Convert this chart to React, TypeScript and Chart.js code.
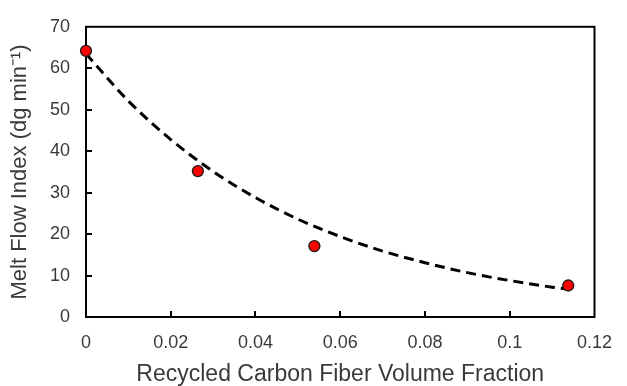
import React, { useEffect, useRef } from 'react';
import { Chart, registerables } from 'chart.js';

Chart.register(...registerables);

// Measured melt flow index vs. recycled carbon fiber volume fraction
const fiberFraction = [0, 0.0264, 0.0539, 0.1138];
const meltFlowIndex = [64.2, 35.2, 17.1, 7.6];

// Exponential trend line, sampled along the fraction axis
const trendFraction = [0, 0.01, 0.02, 0.03, 0.04, 0.05, 0.06, 0.07, 0.08, 0.09, 0.1, 0.11, 0.1138];
const trendMeltFlow = [63.5, 52.1, 42.8, 35.1, 28.8, 23.6, 19.4, 15.9, 13.1, 10.7, 8.8, 7.2, 6.7];

// Axis tick labels
const xTickLabels = ['0', '0.02', '0.04', '0.06', '0.08', '0.1', '0.12'];
const yTickLabels = ['0', '10', '20', '30', '40', '50', '60', '70'];

const TEXT = '#3a3a3a';
const FONT = '"Liberation Sans", Arial, sans-serif';

// Draws the boxed frame and inward-pointing tick marks
const framePlugin = {
  id: 'frame',
  beforeDatasetsDraw(chart: any) {
    const { ctx, chartArea } = chart;
    const { left, right, top, bottom } = chartArea;
    const xs = chart.scales.x;
    const ys = chart.scales.y;
    ctx.save();
    ctx.strokeStyle = '#000';
    ctx.lineWidth = 2;
    ctx.strokeRect(left, top, right - left, bottom - top);
    ctx.beginPath();
    xs.ticks.forEach((t: any) => {
      const px = Math.round(xs.getPixelForValue(t.value));
      if (px <= left + 1 || px >= right - 1) return;
      ctx.moveTo(px, bottom);
      ctx.lineTo(px, bottom - 6);
    });
    ys.ticks.forEach((t: any) => {
      const py = Math.round(ys.getPixelForValue(t.value));
      if (py >= bottom - 1 || py <= top + 1) return;
      ctx.moveTo(left, py);
      ctx.lineTo(left + 6, py);
    });
    ctx.stroke();
    ctx.restore();
  },
};

export default function App() {
  const canvasRef = useRef<HTMLCanvasElement | null>(null);

  useEffect(() => {
    if (!canvasRef.current) return;
    const chart = new Chart(canvasRef.current, {
      type: 'scatter',
      data: {
        datasets: [
          {
            label: 'Melt flow index',
            data: fiberFraction.map((x, i) => ({ x, y: meltFlowIndex[i] })),
            backgroundColor: '#FF0000',
            borderColor: '#1a1a1a',
            borderWidth: 1.3,
            pointRadius: 5.5,
            pointHoverRadius: 5.5,
            showLine: false,
            clip: false,
          },
          {
            label: 'Trend',
            type: 'line',
            data: trendFraction.map((x, i) => ({ x, y: trendMeltFlow[i] })),
            borderColor: '#000',
            borderWidth: 3,
            borderDash: [10, 6],
            pointRadius: 0,
            fill: false,
            cubicInterpolationMode: 'monotone',
            clip: false,
          } as any,
        ],
      },
      options: {
        animation: false,
        responsive: false,
        maintainAspectRatio: false,
        layout: { padding: { top: 23, right: 22, left: 0, bottom: 0 } },
        plugins: {
          legend: { display: false },
          tooltip: { enabled: false },
        },
        scales: {
          x: {
            type: 'linear',
            min: 0,
            max: 0.12,
            grid: { display: false, drawTicks: false },
            border: { display: false },
            ticks: {
              stepSize: 0.02,
              color: TEXT,
              font: { family: FONT, size: 18 },
              padding: 15,
              maxRotation: 0,
              callback: (_v: any, i: number) => xTickLabels[i],
            },
            title: {
              display: true,
              text: 'Recycled Carbon Fiber Volume Fraction',
              color: TEXT,
              font: { family: FONT, size: 23, lineHeight: 1 },
              padding: { top: 0, bottom: 0 },
            },
            afterFit: (s: any) => {
              s.height = 69;
            },
          },
          y: {
            type: 'linear',
            min: 0,
            max: 70,
            grid: { display: false, drawTicks: false },
            border: { display: false },
            ticks: {
              stepSize: 10,
              color: TEXT,
              font: { family: FONT, size: 18 },
              padding: 16,
              callback: (_v: any, i: number) => yTickLabels[i],
            },
            title: {
              display: true,
              text: 'Melt Flow Index (dg min⁻¹)',
              color: TEXT,
              font: { family: FONT, size: 22, lineHeight: 1 },
              padding: { top: 9, bottom: 0 },
            },
            afterFit: (s: any) => {
              s.width = 86;
            },
          },
        },
      },
      plugins: [framePlugin],
    } as any);
    return () => chart.destroy();
  }, []);

  return (
    <div style={{ position: 'fixed', left: 0, top: 0, width: 627, height: 386, background: '#fff' }}>
      <canvas ref={canvasRef} width={627} height={386} style={{ display: 'block' }} />
    </div>
  );
}
